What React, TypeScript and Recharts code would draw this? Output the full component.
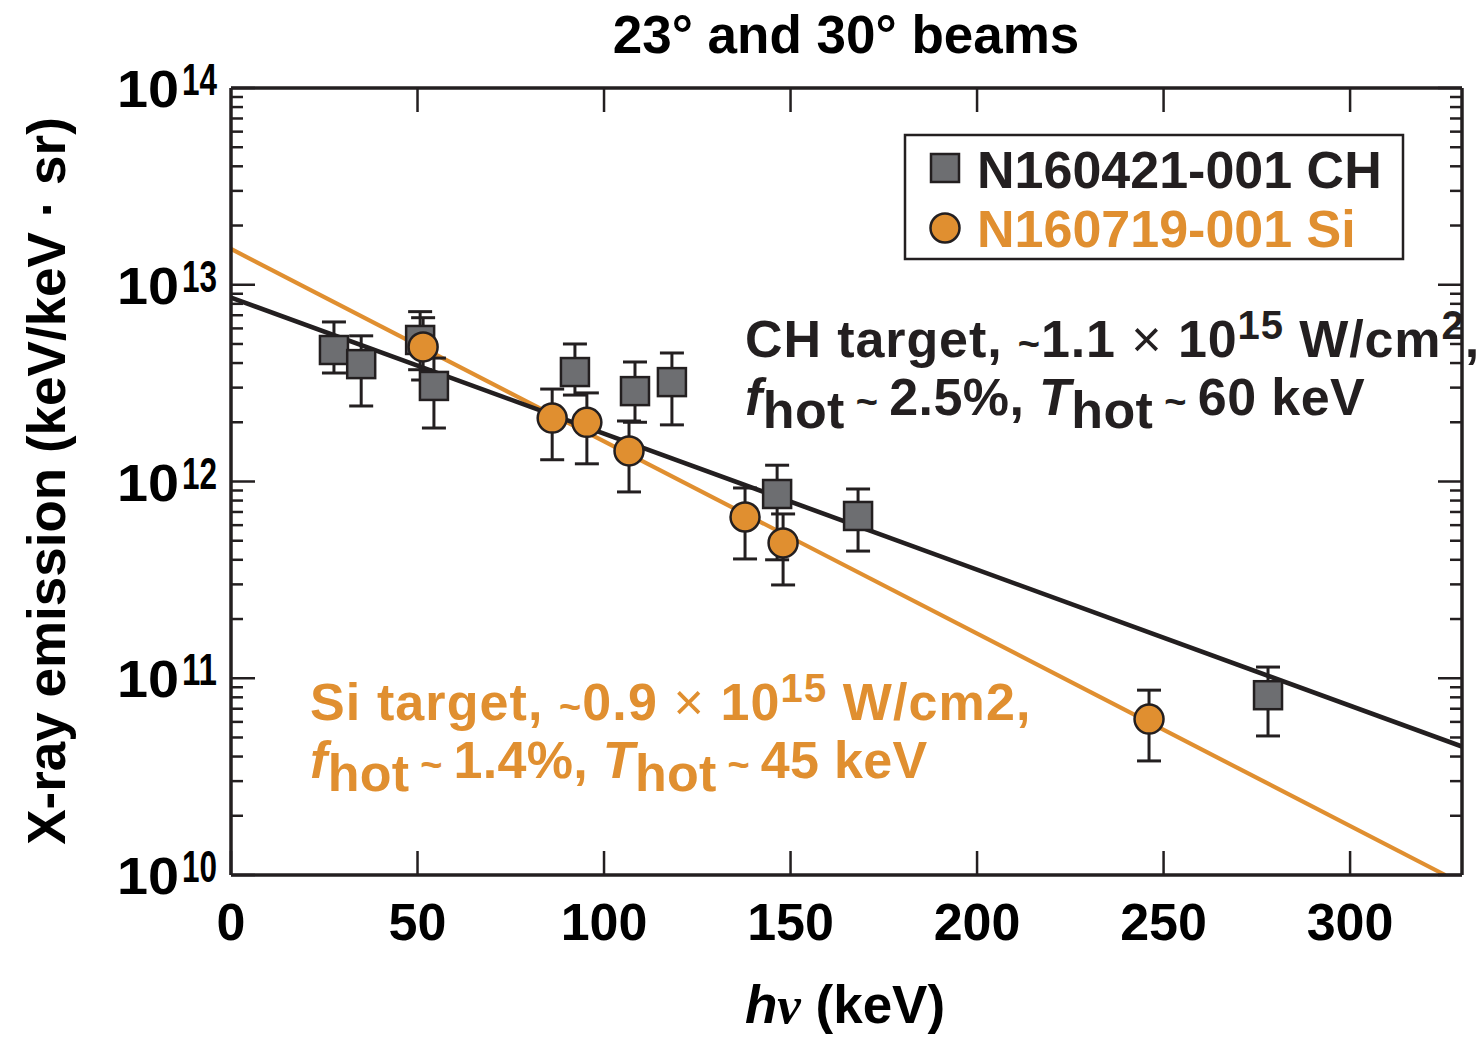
import React from "react";
import { ComposedChart, Line, Scatter, XAxis, YAxis, ErrorBar } from "recharts";

// N160421-001, CH target
const chEnergy = [27.6, 34.9, 50.7, 54.4, 92.2, 108.3, 118.2, 146.4, 168.1, 278.0];
const chEmission = [4.66e12, 3.95e12, 5.24e12, 3.06e12, 3.6e12, 2.88e12, 3.2e12, 8.64e11, 6.68e11, 8.2e10];
const chUpper = [6.47e12, 5.5e12, 7.3e12, 4.24e12, 5.0e12, 4.05e12, 4.5e12, 1.21e12, 9.16e11, 1.14e11];
const chLower = [3.56e12, 2.42e12, 3.7e12, 1.87e12, 2.75e12, 2.0e12, 1.94e12, 4.0e11, 4.43e11, 5.09e10];

// N160719-001, Si target
const siEnergy = [51.5, 86.1, 95.4, 106.7, 137.8, 148.0, 246.1];
const siEmission = [4.83e12, 2.1e12, 2.0e12, 1.43e12, 6.6e11, 4.87e11, 6.2e10];
const siUpper = [6.8e12, 2.95e12, 2.82e12, 2.03e12, 9.27e11, 6.84e11, 8.7e10];
const siLower = [3.28e12, 1.29e12, 1.23e12, 8.85e11, 4.04e11, 2.98e11, 3.8e10];

// exponential fits, end points
const chFitEnergy = [0, 330];
const chFitEmission = [8.6e12, 4.5e10];
const siFitEnergy = [0, 325.5];
const siFitEmission = [1.52e13, 1e10];

const xTicks = [0, 50, 100, 150, 200, 250, 300];
const topTicks = [50, 100, 150, 200, 250, 300];
const decades = [10, 11, 12, 13];
const mantissas = [1, 2, 3, 4, 5, 6, 7, 8, 9];
const yTicks = [...decades.flatMap((e) => mantissas.map((m) => m * 10 ** e)), 1e14];

const INK = "#231f20";
const ORANGE = "#e08f30";
const GRAY = "#6d6e71";
const FONT = "'Liberation Sans', Arial, Helvetica, sans-serif";

const W = 1481;
const H = 1037;

const points = (xs: number[], ys: number[], hi?: number[], lo?: number[]) =>
  xs.map((x, i) => ({
    x,
    y: ys[i],
    err: hi && lo ? [ys[i] - lo[i], hi[i] - ys[i]] : undefined,
  }));

const chData = points(chEnergy, chEmission, chUpper, chLower);
const siData = points(siEnergy, siEmission, siUpper, siLower);
const chFit = points(chFitEnergy, chFitEmission);
const siFit = points(siFitEnergy, siFitEmission);

const isMajor = (v: number) => Math.abs(Math.log10(v) - Math.round(Math.log10(v))) < 1e-9;

const LeftTick = ({ x, y, payload }: any) => {
  const v = payload.value;
  const major = isMajor(v);
  const exp = Math.round(Math.log10(v));
  return (
    <g>
      <line x1={x} x2={x + (major ? 24 : 12)} y1={y} y2={y} stroke={INK} strokeWidth={2.5} />
      {major && (
        <g fontFamily={FONT} fontWeight="bold" fill="#000">
          <text x={x - 114} y={y + 19} fontSize={52} textLength={62} lengthAdjust="spacingAndGlyphs">
            10
          </text>
          <text x={x - 49} y={y + 7} fontSize={44} textLength={35} lengthAdjust="spacingAndGlyphs">
            {exp}
          </text>
        </g>
      )}
    </g>
  );
};

const RightTick = ({ x, y, payload }: any) => {
  const major = isMajor(payload.value);
  return <line x1={x} x2={x - (major ? 24 : 12)} y1={y} y2={y} stroke={INK} strokeWidth={2.5} />;
};

const BottomTick = ({ x, y, payload }: any) => (
  <g>
    <line x1={x} x2={x} y1={y} y2={y - 24} stroke={INK} strokeWidth={2.5} />
    <text x={x} y={y + 65} textAnchor="middle" fontFamily={FONT} fontWeight="bold" fontSize={52} fill="#000">
      {payload.value}
    </text>
  </g>
);

const TopTick = ({ x, y }: any) => (
  <line x1={x} x2={x} y1={y} y2={y + 24} stroke={INK} strokeWidth={2.5} />
);

const SquareDot = ({ cx, cy }: any) => (
  <rect x={cx - 14} y={cy - 14} width={28} height={28} fill={GRAY} stroke={INK} strokeWidth={2.5} />
);

const CircleDot = ({ cx, cy }: any) => (
  <circle cx={cx} cy={cy} r={14.5} fill={ORANGE} stroke={INK} strokeWidth={2.5} />
);

const axisLine = { stroke: INK, strokeWidth: 3.5 };

export default function App() {
  return (
    <div style={{ position: "absolute", left: 0, top: 0, width: W, height: H, background: "#fff" }}>
      <ComposedChart width={W} height={H} margin={{ top: 0, right: 0, bottom: 0, left: 0 }}>
        <XAxis
          xAxisId="bottom"
          dataKey="x"
          type="number"
          domain={[0, 330]}
          ticks={xTicks}
          interval={0}
          height={162}
          tickSize={0}
          tickMargin={0}
          tickLine={false}
          axisLine={axisLine}
          tick={<BottomTick />}
          allowDataOverflow
        />
        <XAxis
          xAxisId="top"
          orientation="top"
          dataKey="x"
          type="number"
          domain={[0, 330]}
          ticks={topTicks}
          interval={0}
          height={88}
          tickSize={0}
          tickMargin={0}
          tickLine={false}
          axisLine={axisLine}
          tick={<TopTick />}
          allowDataOverflow
        />
        <YAxis
          yAxisId="left"
          dataKey="y"
          type="number"
          scale="log"
          domain={[1e10, 1e14]}
          ticks={yTicks}
          interval={0}
          width={231}
          tickSize={0}
          tickMargin={0}
          tickLine={false}
          axisLine={axisLine}
          tick={<LeftTick />}
          allowDataOverflow
        />
        <YAxis
          yAxisId="right"
          orientation="right"
          dataKey="y"
          type="number"
          scale="log"
          domain={[1e10, 1e14]}
          ticks={yTicks}
          interval={0}
          width={19}
          tickSize={0}
          tickMargin={0}
          tickLine={false}
          axisLine={axisLine}
          tick={<RightTick />}
          allowDataOverflow
        />

        <Line
          data={siFit}
          xAxisId="bottom"
          yAxisId="left"
          dataKey="y"
          type="linear"
          stroke={ORANGE}
          strokeWidth={4.2}
          dot={false}
          activeDot={false}
          isAnimationActive={false}
        />
        <Line
          data={chFit}
          xAxisId="top"
          yAxisId="right"
          dataKey="y"
          type="linear"
          stroke={INK}
          strokeWidth={4.6}
          dot={false}
          activeDot={false}
          isAnimationActive={false}
        />

        <Scatter
          data={chData}
          xAxisId="bottom"
          yAxisId="left"
          dataKey="y"
          shape={<SquareDot />}
          isAnimationActive={false}
        >
          <ErrorBar dataKey="err" direction="y" width={12} stroke={INK} strokeWidth={3} />
        </Scatter>
        <Scatter
          data={siData}
          xAxisId="bottom"
          yAxisId="left"
          dataKey="y"
          shape={<CircleDot />}
          isAnimationActive={false}
        >
          <ErrorBar dataKey="err" direction="y" width={12} stroke={INK} strokeWidth={3} />
        </Scatter>
      </ComposedChart>

      <svg
        width={W}
        height={H}
        style={{ position: "absolute", left: 0, top: 0, pointerEvents: "none" }}
        fontFamily={FONT}
        fontWeight="bold"
      >
        <text x={846} y={53} textAnchor="middle" fontSize={53} fill="#000">
          23° and 30° beams
        </text>
        <text transform="translate(65,481) rotate(-90)" textAnchor="middle" fontSize={53} fill="#000">
          X-ray emission (keV/keV · sr)
        </text>
        <text x={845} y={1023} textAnchor="middle" fontSize={53} fill="#000">
          <tspan fontStyle="italic">h</tspan>
          <tspan fontFamily="'Liberation Serif', serif" fontStyle="italic">ν</tspan>
          <tspan> (keV)</tspan>
        </text>

        {/* legend */}
        <rect x={905} y={135} width={498} height={124} fill="#fff" stroke={INK} strokeWidth={2.5} />
        <rect x={931} y={154} width={28} height={28} fill={GRAY} stroke={INK} strokeWidth={2.5} />
        <text x={977} y={188} fontSize={52} fill={INK}>N160421-001 CH</text>
        <circle cx={945} cy={228} r={14.5} fill={ORANGE} stroke={INK} strokeWidth={2.5} />
        <text x={977} y={247} fontSize={52} fill={ORANGE}>N160719-001 Si</text>

        {/* CH fit parameters */}
        <g fill={INK} fontSize={52}>
          <text x={745} y={357} letterSpacing={0.9}>
            <tspan>CH target, </tspan>
            <tspan fontSize={38}>~</tspan>
            <tspan>1.1 </tspan>
            <tspan fontWeight="normal">×</tspan>
            <tspan> 10</tspan>
            <tspan dy={-18} fontSize={40}>15</tspan>
            <tspan dy={18}> W/cm</tspan>
            <tspan dy={-18} fontSize={40}>2</tspan>
            <tspan dy={18}>,</tspan>
          </text>
          <text x={745} y={415} letterSpacing={0.4}>
            <tspan fontStyle="italic">f</tspan>
            <tspan dy={13}>hot</tspan>
            <tspan dy={-13} fontSize={38}> ~ </tspan>
            <tspan>2.5%, </tspan>
            <tspan fontStyle="italic">T</tspan>
            <tspan dy={13}>hot</tspan>
            <tspan dy={-13} fontSize={38}> ~ </tspan>
            <tspan>60 keV</tspan>
          </text>
        </g>

        {/* Si fit parameters */}
        <g fill={ORANGE} fontSize={52}>
          <text x={310} y={720} letterSpacing={1.1}>
            <tspan>Si target, </tspan>
            <tspan fontSize={38}>~</tspan>
            <tspan>0.9 </tspan>
            <tspan fontWeight="normal">×</tspan>
            <tspan> 10</tspan>
            <tspan dy={-18} fontSize={40}>15</tspan>
            <tspan dy={18}> W/cm2,</tspan>
          </text>
          <text x={310} y={778} letterSpacing={0.3}>
            <tspan fontStyle="italic">f</tspan>
            <tspan dy={13}>hot</tspan>
            <tspan dy={-13} fontSize={38}> ~ </tspan>
            <tspan>1.4%, </tspan>
            <tspan fontStyle="italic">T</tspan>
            <tspan dy={13}>hot</tspan>
            <tspan dy={-13} fontSize={38}> ~ </tspan>
            <tspan>45 keV</tspan>
          </text>
        </g>
      </svg>
    </div>
  );
}
